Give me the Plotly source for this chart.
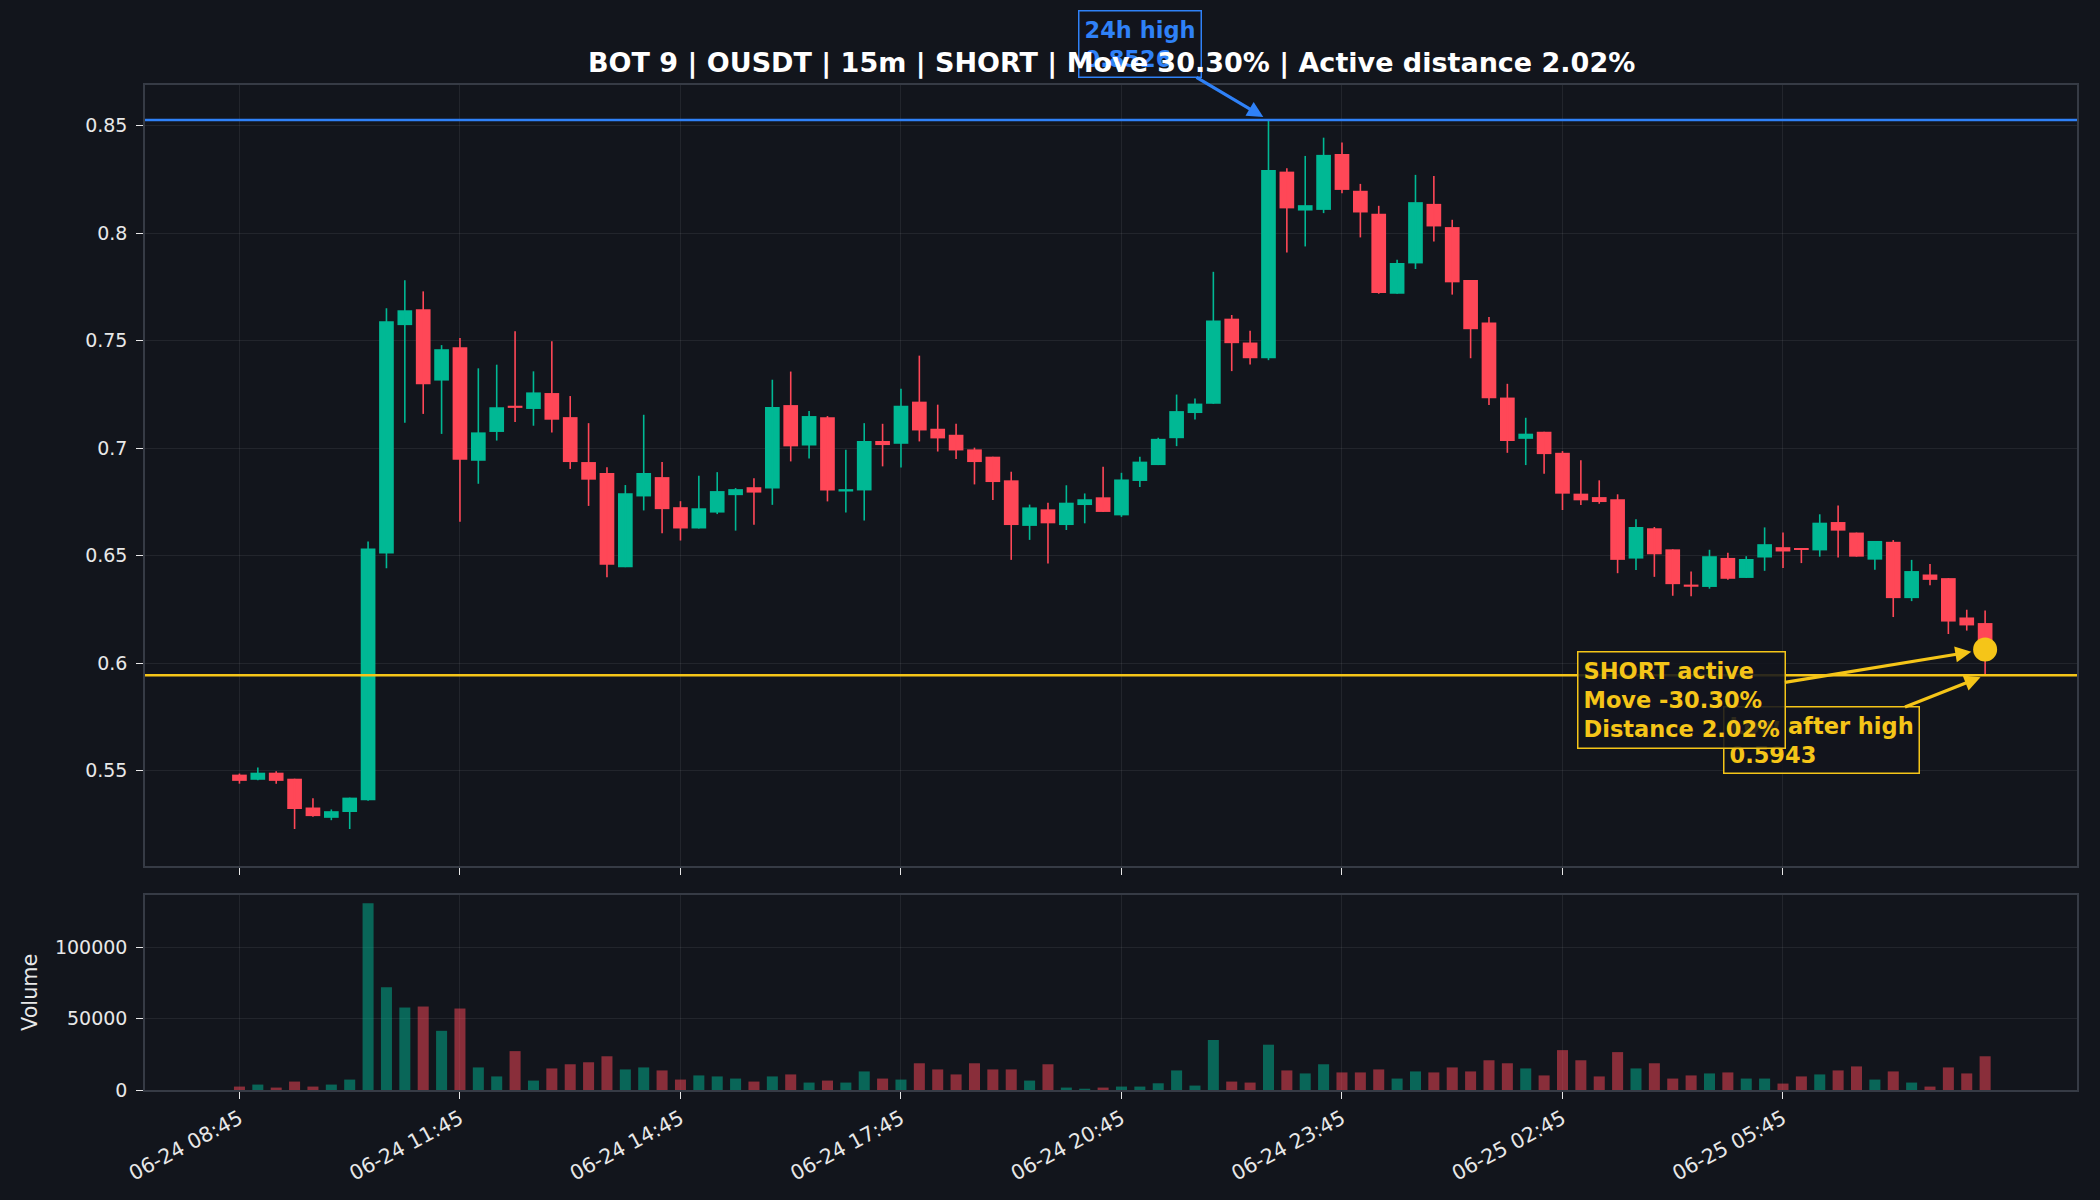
import pandas as pd
import plotly.graph_objects as go

# ---------------- data ----------------
START = "2025-06-24 08:45"
INTERVAL = "15min"

opens = [0.5481, 0.5457, 0.5490, 0.5462, 0.5328, 0.5280, 0.5307, 0.5362, 0.6510, 0.7572,
         0.7646, 0.7314, 0.7469, 0.6941, 0.7075, 0.7197, 0.7182, 0.7256, 0.7144, 0.6935,
         0.6884, 0.6446, 0.6775, 0.6865, 0.6725, 0.6626, 0.6700, 0.6781, 0.6818, 0.6812,
         0.7200, 0.7012, 0.7144, 0.6798, 0.6803, 0.7033, 0.7020, 0.7216, 0.7090, 0.7062,
         0.6994, 0.6960, 0.6850, 0.6638, 0.6715, 0.6642, 0.6735, 0.6771, 0.6687, 0.6847,
         0.6921, 0.7046, 0.7163, 0.7206, 0.7602, 0.7491, 0.7418, 0.8286, 0.8105, 0.8108,
         0.8368, 0.8197, 0.8090, 0.7718, 0.7859, 0.8136, 0.8028, 0.7782, 0.7584, 0.7235,
         0.7043, 0.7076, 0.6978, 0.6788, 0.6772, 0.6762, 0.6486, 0.6627, 0.6529, 0.6365,
         0.6354, 0.6489, 0.6396, 0.6491, 0.6539, 0.6535, 0.6524, 0.6656, 0.6607, 0.6481,
         0.6564, 0.6302, 0.6412, 0.6395, 0.6212, 0.6186]
highs = [0.5486, 0.5514, 0.5497, 0.5462, 0.5371, 0.5319, 0.5374, 0.6565, 0.7651, 0.7781,
         0.7729, 0.7479, 0.7512, 0.7371, 0.7388, 0.7543, 0.7357, 0.7497, 0.7242, 0.7116,
         0.6911, 0.6828, 0.7155, 0.6935, 0.6753, 0.6871, 0.6888, 0.6814, 0.6860, 0.7318,
         0.7356, 0.7172, 0.7149, 0.6992, 0.7116, 0.7113, 0.7276, 0.7430, 0.7202, 0.7113,
         0.7002, 0.6960, 0.6890, 0.6737, 0.6746, 0.6827, 0.6789, 0.6913, 0.6885, 0.6960,
         0.7048, 0.7249, 0.7231, 0.7820, 0.7619, 0.7546, 0.8526, 0.8302, 0.8359, 0.8444,
         0.8421, 0.8229, 0.8127, 0.7876, 0.8271, 0.8266, 0.8062, 0.7782, 0.7610, 0.7299,
         0.7141, 0.7076, 0.6986, 0.6943, 0.6850, 0.6785, 0.6669, 0.6633, 0.6529, 0.6426,
         0.6527, 0.6513, 0.6497, 0.6631, 0.6607, 0.6535, 0.6692, 0.6733, 0.6607, 0.6568,
         0.6572, 0.6480, 0.6461, 0.6395, 0.6248, 0.6245]
lows = [0.5439, 0.5455, 0.5438, 0.5228, 0.5285, 0.5269, 0.5228, 0.5360, 0.6441, 0.7118,
        0.7159, 0.7066, 0.6657, 0.6834, 0.7035, 0.7121, 0.7104, 0.7073, 0.6903, 0.6731,
        0.6399, 0.6446, 0.6710, 0.6604, 0.6570, 0.6626, 0.6693, 0.6616, 0.6643, 0.6736,
        0.6938, 0.6952, 0.6752, 0.6700, 0.6663, 0.6915, 0.6910, 0.7031, 0.6984, 0.6949,
        0.6831, 0.6759, 0.6480, 0.6573, 0.6463, 0.6619, 0.6650, 0.6703, 0.6680, 0.6819,
        0.6921, 0.7009, 0.7133, 0.7206, 0.7358, 0.7389, 0.7409, 0.7910, 0.7938, 0.8093,
        0.8186, 0.7980, 0.7718, 0.7718, 0.7833, 0.7961, 0.7714, 0.7418, 0.7200, 0.6978,
        0.6921, 0.6881, 0.6712, 0.6735, 0.6741, 0.6418, 0.6433, 0.6401, 0.6313, 0.6311,
        0.6346, 0.6387, 0.6396, 0.6429, 0.6442, 0.6465, 0.6495, 0.6491, 0.6495, 0.6434,
        0.6214, 0.6288, 0.6362, 0.6135, 0.6151, 0.5943]
closes = [0.5452, 0.5490, 0.5452, 0.5321, 0.5288, 0.5311, 0.5374, 0.6533, 0.7590, 0.7641,
          0.7297, 0.7460, 0.6946, 0.7073, 0.7190, 0.7187, 0.7259, 0.7132, 0.6935, 0.6853,
          0.6457, 0.6790, 0.6884, 0.6716, 0.6626, 0.6720, 0.6800, 0.6809, 0.6793, 0.7191,
          0.7008, 0.7149, 0.6803, 0.6809, 0.7033, 0.7014, 0.7197, 0.7082, 0.7045, 0.6989,
          0.6935, 0.6842, 0.6642, 0.6724, 0.6650, 0.6746, 0.6762, 0.6703, 0.6854, 0.6937,
          0.7043, 0.7172, 0.7207, 0.7593, 0.7488, 0.7418, 0.8294, 0.8115, 0.8130, 0.8364,
          0.8201, 0.8096, 0.7721, 0.7861, 0.8144, 0.8031, 0.7771, 0.7553, 0.7232, 0.7033,
          0.7067, 0.6972, 0.6788, 0.6757, 0.6749, 0.6480, 0.6633, 0.6506, 0.6367, 0.6355,
          0.6497, 0.6392, 0.6484, 0.6553, 0.6519, 0.6528, 0.6653, 0.6616, 0.6495, 0.6568,
          0.6302, 0.6428, 0.6387, 0.6193, 0.6175, 0.6063]
volumes = [2400, 3800, 1700, 5900, 2400, 3800, 7300, 130700, 71900, 57700,
           58400, 41400, 57000, 15800, 9500, 27200, 6600, 15100, 18000, 19400,
           23600, 14400, 15800, 13700, 7300, 10200, 9500, 8000, 5900, 9500,
           10900, 5200, 6600, 5200, 13000, 8000, 7300, 18700, 14400, 10900,
           18700, 14400, 14400, 6600, 18000, 1700, 900, 1700, 2400, 2400,
           4700, 13700, 3100, 35000, 5900, 5200, 31700, 13700, 11600, 18000,
           12300, 12300, 14400, 8000, 13000, 12300, 15800, 13000, 20800, 18700,
           15100, 10200, 27900, 20800, 9500, 26500, 15100, 18700, 8000, 10200,
           11600, 12300, 8000, 8000, 4500, 9500, 10900, 13700, 16500, 7300,
           13000, 5200, 2400, 15800, 11600, 23600]

HIGH_24H = 0.8526
LOW_AFTER_HIGH = 0.5943
CURRENT = 0.6063
MOVE_PCT = -30.30
DIST_PCT = 2.02

price_ticks = [0.55, 0.6, 0.65, 0.7, 0.75, 0.8, 0.85]
price_tick_labels = ["0.55", "0.6", "0.65", "0.7", "0.75", "0.8", "0.85"]
vol_ticks = [0, 50000, 100000]
vol_tick_labels = ["0", "50000", "100000"]
x_tick_labels = ["06-24 08:45", "06-24 11:45", "06-24 14:45", "06-24 17:45",
                 "06-24 20:45", "06-24 23:45", "06-25 02:45", "06-25 05:45"]

# ---------------- styling ----------------
BG = "#12151c"
UP = "#00b894"
DOWN = "#ff4757"
UP_VOL = "rgba(0,184,148,0.5)"
DOWN_VOL = "rgba(255,71,87,0.5)"
BLUE = "#2f81f7"
YELLOW = "#f5c518"
GRID = "rgba(255,255,255,0.07)"
SPINE = "#363b45"
TEXT = "#e8e8e8"
FONT = "DejaVu Sans"

times = pd.date_range(START, periods=len(opens), freq=INTERVAL)
step = pd.Timedelta(INTERVAL)
year = times[0].year
x_tick_vals = [pd.to_datetime(f"{year}-{s}", format="%Y-%m-%d %H:%M") for s in x_tick_labels]
x_range = [times[0] - 5.14 * step, times[0] + 100.0 * step]

is_up = [c >= o for o, c in zip(opens, closes)]
body_base = [min(o, c) for o, c in zip(opens, closes)]
body_h = [abs(c - o) for o, c in zip(opens, closes)]
body_col = [UP if u else DOWN for u in is_up]
vol_col = [UP_VOL if u else DOWN_VOL for u in is_up]
step_ms = step.total_seconds() * 1000


def wick_xy(up_flag):
    xs, ys = [], []
    for t, h, l, u in zip(times, highs, lows, is_up):
        if u == up_flag:
            xs += [t, t, None]
            ys += [l, h, None]
    return xs, ys


fig = go.Figure()
for flag, col in ((True, UP), (False, DOWN)):
    wx, wy = wick_xy(flag)
    fig.add_trace(go.Scatter(x=wx, y=wy, mode="lines", line=dict(color=col, width=1.6),
                             xaxis="x", yaxis="y", hoverinfo="skip", showlegend=False))

fig.add_trace(go.Bar(x=times, y=body_h, base=body_base, width=0.8 * step_ms,
                     marker=dict(color=body_col, line=dict(width=0)),
                     xaxis="x", yaxis="y", showlegend=False))

fig.add_trace(go.Bar(x=times, y=volumes, width=0.6 * step_ms,
                     marker=dict(color=vol_col, line=dict(width=0)),
                     xaxis="x2", yaxis="y2", showlegend=False))

fig.add_trace(go.Scatter(x=[times[-1]], y=[CURRENT], mode="markers",
                         marker=dict(color=YELLOW, size=24),
                         xaxis="x", yaxis="y", showlegend=False))

# reference lines
fig.add_shape(type="line", xref="x domain", yref="y", x0=0, x1=1, y0=HIGH_24H, y1=HIGH_24H,
              line=dict(color=BLUE, width=2.5))
fig.add_shape(type="line", xref="x domain", yref="y", x0=0, x1=1, y0=LOW_AFTER_HIGH,
              y1=LOW_AFTER_HIGH, line=dict(color=YELLOW, width=2.5))

idx_high = highs.index(max(highs))
ann_font = dict(family=FONT, size=22.5, weight="bold")
box_bg = "rgba(18,21,28,0.88)"

title_text = (f"BOT 9 | OUSDT | 15m | SHORT | Move {abs(MOVE_PCT):.2f}% | "
              f"Active distance {DIST_PCT:.2f}%")

annotations = [
    dict(x=times[idx_high], y=HIGH_24H, xref="x", yref="y", ax=-128, ay=-76,
         text=f"24h high<br>{HIGH_24H:.4f}", align="left",
         font=dict(**ann_font, color=BLUE), bgcolor=box_bg, bordercolor=BLUE,
         borderwidth=1.5, borderpad=5, showarrow=True, arrowhead=2, arrowsize=1,
         arrowwidth=3.2, arrowcolor=BLUE, standoff=6),
    # title drawn after the blue box so that it sits on top of it
    dict(x=0.5, y=(1090 - 63.3) / 1005, xref="paper", yref="paper", text=title_text,
         showarrow=False, xanchor="center", yanchor="middle",
         font=dict(family=FONT, size=27, color="white", weight="bold")),
    dict(x=times[-1], y=LOW_AFTER_HIGH, xref="x", yref="y", ax=-164, ay=65,
         text=f"Low after high<br>{LOW_AFTER_HIGH:.4f}", align="left",
         font=dict(**ann_font, color=YELLOW), bgcolor=box_bg, bordercolor=YELLOW,
         borderwidth=1.5, borderpad=5, showarrow=True, arrowhead=2, arrowsize=1,
         arrowwidth=3.2, arrowcolor=YELLOW, standoff=5),
    dict(x=times[-1], y=CURRENT, xref="x", yref="y", ax=-304, ay=50,
         text=f"SHORT active<br>Move {MOVE_PCT:.2f}%<br>Distance {DIST_PCT:.2f}%", align="left",
         font=dict(**ann_font, color=YELLOW), bgcolor=box_bg, bordercolor=YELLOW,
         borderwidth=1.5, borderpad=5, showarrow=True, arrowhead=2, arrowsize=1,
         arrowwidth=3.2, arrowcolor=YELLOW, standoff=14),
    dict(x=-0.0598, y=0.097, xref="paper", yref="paper", text="Volume", textangle=-90,
         showarrow=False, font=dict(family=FONT, size=20.8, color=TEXT),
         xanchor="center", yanchor="middle"),
]

axis_common = dict(showgrid=True, gridcolor=GRID, gridwidth=1, zeroline=False,
                   showline=True, linecolor=SPINE, linewidth=1.5, mirror=True,
                   ticks="outside", ticklen=7, tickwidth=1.2, tickcolor=TEXT)
yfont = dict(family=FONT, size=19, color=TEXT)
xfont = dict(family=FONT, size=20.5, color=TEXT)

fig.update_layout(
    width=2100, height=1200, autosize=False,
    margin=dict(l=145, r=23, t=85, b=110),
    paper_bgcolor=BG, plot_bgcolor=BG,
    barmode="overlay", showlegend=False,
    xaxis=dict(**axis_common, domain=[0, 1], anchor="y", range=x_range, type="date",
               tickvals=x_tick_vals, ticktext=x_tick_labels, showticklabels=False,
               tickfont=xfont),
    yaxis=dict(**axis_common, domain=[0.2229, 1], anchor="x", range=[0.5056, 0.8689],
               tickvals=price_ticks, ticktext=price_tick_labels, tickfont=yfont,
               ticklabelstandoff=5),
    xaxis2=dict(**axis_common, domain=[0, 1], anchor="y2", matches="x", range=x_range,
                type="date", tickvals=x_tick_vals, ticktext=x_tick_labels, tickangle=-28,
                tickfont=xfont),
    yaxis2=dict(**axis_common, domain=[0, 0.194], anchor="x2", range=[0, 136400],
                tickvals=vol_ticks, ticktext=vol_tick_labels, tickfont=yfont,
                ticklabelstandoff=5),
    annotations=annotations,
    font=dict(family=FONT, color=TEXT),
)

fig.write_html("out.html")
